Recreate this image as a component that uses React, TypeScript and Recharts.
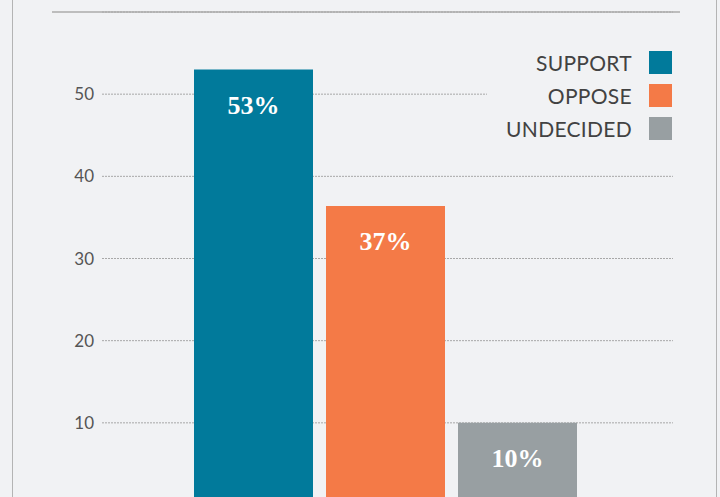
import React from 'react';
import { Bar, BarChart, CartesianGrid, LabelList, XAxis, YAxis } from 'recharts';

const seriesKeys = ['support', 'oppose', 'undecided'];
const seriesNames = ['SUPPORT', 'OPPOSE', 'UNDECIDED'];
const seriesValues = [53, 36.4, 10];
const valueLabels = ['53%', '37%', '10%'];
const seriesColors = ['#017a9b', '#f47a47', '#989fa2'];
const yTicks = [10, 20, 30, 40, 50];

const BG = '#f1f2f4';

const row: Record<string, string | number> = { name: 'All' };
seriesKeys.forEach((key, i) => {
  row[key] = seriesValues[i];
  row[`${key}Label`] = valueLabels[i];
});
const data = [row];

const renderValueLabel = (props: any) => {
  const { x, y, width, value } = props;
  return (
    <text
      x={Number(x) + Number(width) / 2}
      y={Number(y) + 36}
      textAnchor="middle"
      dominantBaseline="central"
      fill="#ffffff"
      fontFamily="'Liberation Serif', serif"
      fontWeight="bold"
      fontSize={26}
    >
      {value}
    </text>
  );
};

export default function App() {
  return (
    <div
      style={{
        position: 'fixed',
        top: 0,
        left: 0,
        width: 720,
        height: 497,
        overflow: 'hidden',
        background: BG,
      }}
    >
      {/* frame edges */}
      <div
        style={{
          position: 'absolute',
          left: 12,
          top: 0,
          width: 703,
          height: 497,
          borderLeft: '1px solid #b4b4b4',
          borderRight: '1px solid #b4b4b4',
        }}
      />
      {/* top rule */}
      <div
        style={{
          position: 'absolute',
          left: 52,
          top: 11,
          width: 628,
          height: 2,
          background: '#bdbdbd',
        }}
      />
      <div style={{ position: 'absolute', left: 0, top: 0 }}>
        <BarChart
          width={720}
          height={520}
          data={data}
          margin={{ top: 12, right: 47, bottom: 15, left: 0 }}
          barSize={119}
          barGap={13}
        >
          <CartesianGrid
            vertical={false}
            stroke="#a8a8a8"
            strokeDasharray="2 1"
          />
          <XAxis dataKey="name" hide padding={{ left: 0, right: 4 }} />
          <YAxis
            width={102}
            domain={[0, 60]}
            ticks={yTicks}
            axisLine={false}
            tickLine={false}
            tick={{
              fill: '#555555',
              fontSize: 17,
              fontFamily: 'Lato, sans-serif',
            }}
          />
          {seriesKeys.map((key, i) => (
            <Bar
              key={key}
              dataKey={key}
              name={seriesNames[i]}
              fill={seriesColors[i]}
              isAnimationActive={false}
            >
              <LabelList dataKey={`${key}Label`} content={renderValueLabel} />
            </Bar>
          ))}
        </BarChart>
      </div>
      {/* legend */}
      <div
        style={{
          position: 'absolute',
          left: 487,
          top: 44,
          width: 193,
          paddingTop: 2,
          background: BG,
          fontFamily: 'Lato, sans-serif',
        }}
      >
        {seriesNames.map((name, i) => (
          <div
            key={name}
            style={{
              height: 33,
              display: 'flex',
              alignItems: 'center',
              justifyContent: 'flex-end',
            }}
          >
            <span style={{ fontSize: 21, color: '#424242', letterSpacing: 0.3 }}>
              {name}
            </span>
            <span
              style={{
                display: 'inline-block',
                width: 23,
                height: 23,
                marginLeft: 17,
                marginRight: 8,
                background: seriesColors[i],
              }}
            />
          </div>
        ))}
      </div>
    </div>
  );
}
